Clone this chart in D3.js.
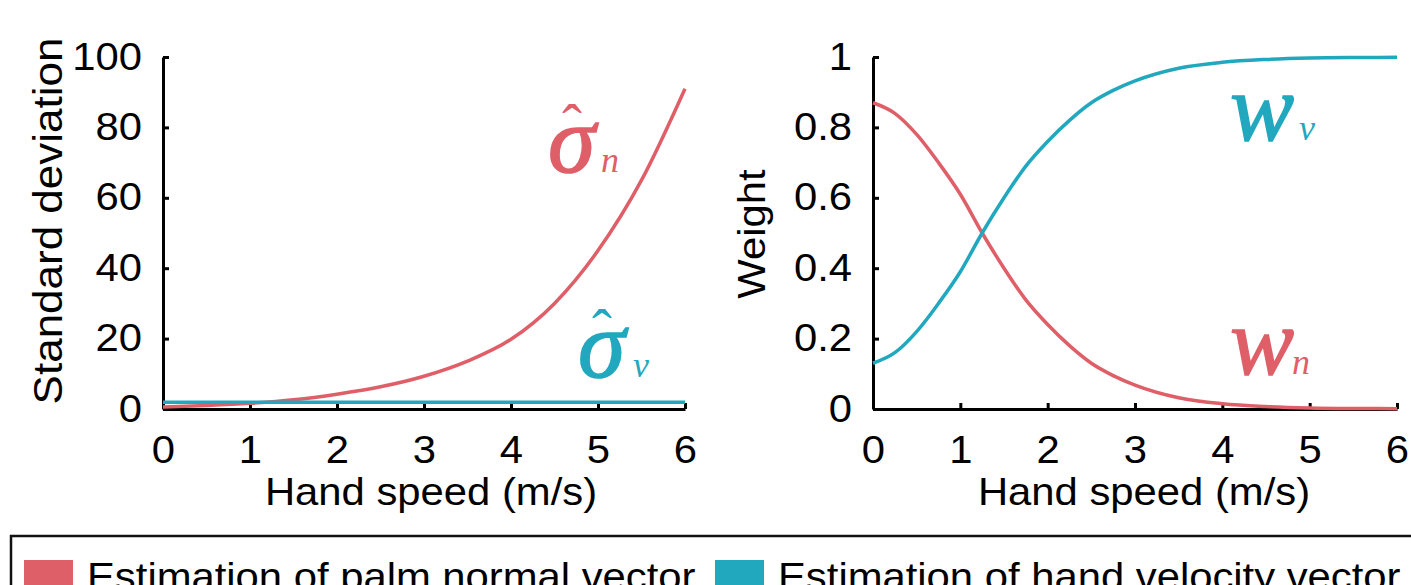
<!DOCTYPE html>
<html>
<head>
<meta charset="utf-8">
<script src="https://cdn.jsdelivr.net/npm/d3@7"></script>
<style>
  body { margin: 0; background: #fff; }
  svg { display: block; }
  .axis path, .axis line { stroke: #000; stroke-width: 3px; }
  .axis text { font-family: "Liberation Sans", Arial, sans-serif; font-size: 38px; fill: #000; }
  .label { font-family: "Liberation Sans", Arial, sans-serif; font-size: 38px; fill: #000; }
  .sym { font-family: "Liberation Serif", "Times New Roman", serif; font-style: italic; }
</style>
</head>
<body>
<div id="chart"></div>
<script>
var width = 1411, height = 585;
var red = "#df5f68", cyan = "#22a8be";
var stretch = 1.1;

// hand speed (m/s)
var speedLeft = [0, 0.5, 1, 1.5, 2, 2.5, 3, 3.5, 4, 4.5, 5, 5.5, 6];
var sigmaN = [0.6, 1.0, 1.6, 2.6, 4.2, 6.3, 9.3, 13.6, 19.8, 30, 45, 65, 91];
var sigmaV = [1.9, 1.9, 1.9, 1.9, 1.9, 1.9, 1.9, 1.9, 1.9, 1.9, 1.9, 1.9, 1.9];

var speedRight = [0, 0.25, 0.5, 0.75, 1, 1.25, 1.5, 1.75, 2, 2.25, 2.5, 2.75, 3, 3.5, 4, 4.5, 5, 5.5, 6];
var weightN = [0.87, 0.84, 0.78, 0.70, 0.61, 0.50, 0.40, 0.31, 0.24, 0.18, 0.13, 0.095, 0.068, 0.032, 0.015, 0.007, 0.003, 0.0015, 0.001];
var weightV = [0.13, 0.16, 0.22, 0.30, 0.39, 0.50, 0.60, 0.69, 0.76, 0.82, 0.87, 0.905, 0.932, 0.968, 0.985, 0.993, 0.997, 0.9985, 0.999];

var xTicks = [0, 1, 2, 3, 4, 5, 6];
var yTicksLeft = [0, 20, 40, 60, 80, 100];
var yTicksRight = [0, 0.2, 0.4, 0.6, 0.8, 1];
var legendNames = ["Estimation of palm normal vector", "Estimation of hand velocity vector"];

var svg = d3.select("#chart").append("svg")
  .attr("width", width)
  .attr("height", height);

function stretchText(sel) {
  sel.attr("transform", function() {
    var t = d3.select(this).attr("transform");
    return (t ? t + " " : "") + "scale(" + stretch + ",1)";
  });
}

function drawPanel(opts) {
  var x = d3.scaleLinear().domain([0, 6]).range(opts.xRange);
  var y = d3.scaleLinear().domain(opts.yDomain).range([409, 57]);

  var xAxis = svg.append("g")
    .attr("class", "axis")
    .attr("transform", "translate(0,409)")
    .call(d3.axisBottom(x).tickValues(xTicks).tickFormat(d3.format("d"))
      .tickSizeInner(-6).tickSizeOuter(0).tickPadding(27));

  var yAxis = svg.append("g")
    .attr("class", "axis")
    .attr("transform", "translate(" + opts.xRange[0] + ",0)")
    .call(d3.axisLeft(y).tickValues(opts.yTicks).tickFormat(d3.format("~g"))
      .tickSizeInner(-6).tickSizeOuter(0).tickPadding(19));

  xAxis.selectAll("text").call(stretchText);
  yAxis.selectAll("text").call(stretchText);

  var line = d3.line()
    .x(function(d) { return x(d[0]); })
    .y(function(d) { return y(d[1]); })
    .curve(d3.curveMonotoneX);

  opts.series.forEach(function(s) {
    svg.append("path")
      .datum(opts.xs.map(function(v, i) { return [v, s.values[i]]; }))
      .attr("fill", "none")
      .attr("stroke", s.color)
      .attr("stroke-width", 3.5)
      .attr("d", line);
  });

  // x label
  svg.append("text")
    .attr("class", "label")
    .attr("transform", "translate(" + opts.xLabelX + ",505) scale(" + stretch + ",1)")
    .attr("text-anchor", "middle")
    .text("Hand speed (m/s)");

  // y label
  svg.append("text")
    .attr("class", "label")
    .attr("transform", "translate(" + opts.yLabel.x + "," + opts.yLabel.y + ") rotate(-90) scale(" + stretch + ",1)")
    .attr("text-anchor", "middle")
    .style("font-size", opts.yLabel.size + "px")
    .text(opts.yLabel.text);
}

drawPanel({
  xRange: [163, 685],
  yDomain: [0, 100],
  yTicks: yTicksLeft,
  xs: speedLeft,
  series: [{ values: sigmaN, color: red }, { values: sigmaV, color: cyan }],
  xLabelX: 431,
  yLabel: { x: 62, y: 221, text: "Standard deviation", size: 40 }
});

drawPanel({
  xRange: [873, 1397],
  yDomain: [0, 1],
  yTicks: yTicksRight,
  xs: speedRight,
  series: [{ values: weightN, color: red }, { values: weightV, color: cyan }],
  xLabelX: 1144,
  yLabel: { x: 765, y: 234, text: "Weight", size: 38 }
});

// curve annotations
function symbol(x, y, main, sub, color, hat) {
  var g = svg.append("g").attr("fill", color);
  g.append("text").attr("class", "sym")
    .attr("x", x).attr("y", y)
    .attr("stroke", color)
    .attr("stroke-width", 1.5)
    .style("font-size", "96px")
    .text(main);
  if (hat) {
    g.append("text")
      .attr("x", x + 14).attr("y", y - 27)
      .style("font-family", "Liberation Serif, serif")
      .style("font-size", "60px")
      .text("\u02C6");
  }
  g.append("text").attr("class", "sym")
    .attr("x", sub.x).attr("y", y)
    .style("font-size", "36px")
    .text(sub.t);
}

symbol(548, 172, "\u03C3", { x: 601, t: "n" }, red, true);
symbol(578, 377, "\u03C3", { x: 633, t: "v" }, cyan, true);
symbol(1230, 140, "w", { x: 1299, t: "v" }, cyan, false);
symbol(1230, 374, "w", { x: 1292, t: "n" }, red, false);

// legend
svg.append("rect")
  .attr("x", 11).attr("y", 536)
  .attr("width", 1420).attr("height", 80)
  .attr("fill", "none")
  .attr("stroke", "#111")
  .attr("stroke-width", 2.5);

var legendX = [24, 715];
var legendColors = [red, cyan];
legendNames.forEach(function(name, i) {
  svg.append("rect")
    .attr("x", legendX[i]).attr("y", 560)
    .attr("width", 49).attr("height", 40)
    .attr("fill", legendColors[i]);
  svg.append("text")
    .attr("class", "label")
    .attr("transform", "translate(" + (legendX[i] + 63) + ",590) scale(" + stretch + ",1)")
    .text(name);
});
</script>
</body>
</html>
